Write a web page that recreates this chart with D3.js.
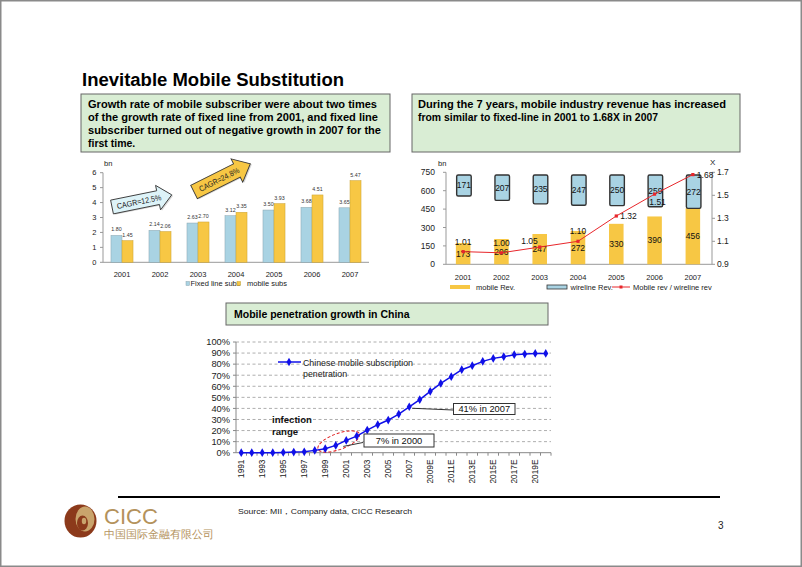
<!DOCTYPE html>
<html><head><meta charset="utf-8">
<script src="https://cdn.jsdelivr.net/npm/d3@7"></script>
<style>
body{margin:0;background:#fff}
svg{display:block}
text{font-family:"Liberation Sans",Arial,sans-serif}
</style>
</head><body>
<svg id="c" width="802" height="567"></svg>
<script>
// ---------------- DATA ----------------
const years = ["2001","2002","2003","2004","2005","2006","2007"];
const fixedSubs = [1.80,2.14,2.63,3.12,3.50,3.68,3.65];
const mobileSubs = [1.45,2.06,2.70,3.35,3.93,4.51,5.47];
const subsTicks = [0,1,2,3,4,5,6];

const mobileRev = [173,206,247,272,330,390,456];
const wirelineRev = [171,207,235,247,250,259,272];
const revRatio = [1.01,1.00,1.05,1.10,1.32,1.51,1.68];
const ratioLabelPos = ["above","above","left","above","right","below","right"];
const revTicks = [0,150,300,450,600,750];
const ratioTicks = [0.9,1.1,1.3,1.5,1.7];

const penYears = ["1991","1992","1993","1994","1995","1996","1997","1998","1999","2000",
  "2001","2002","2003","2004","2005","2006","2007","2008","2009E","2010E",
  "2011E","2012E","2013E","2014E","2015E","2016E","2017E","2018E","2019E","2020E"];
const penetration = [0,0,0,0,0.002,0.006,0.008,0.021,0.036,0.066,
  0.111,0.15,0.204,0.253,0.295,0.349,0.415,0.479,0.554,0.626,
  0.687,0.75,0.786,0.825,0.852,0.867,0.885,0.891,0.897,0.897];
const penTicks = [0,0.1,0.2,0.3,0.4,0.5,0.6,0.7,0.8,0.9,1.0];
const penCallouts = [{year:"2000", text:"7% in 2000"},{year:"2007", text:"41% in 2007"}];

// ---------------- DRAW ----------------
const svg = d3.select("#c");
const BLUE = "#A9D3E3", YEL = "#F7C744", GREEN = "#D9EDD4";

function txt(g, x, y, s, o) {
  const t = g.append("text").attr("x", x).attr("y", y).text(s);
  if (o) for (const k in o) t.attr(k, o[k]);
  return t;
}

svg.append("rect").attr("x",0.75).attr("y",0.75).attr("width",800.5).attr("height",565.5)
  .attr("fill","#fff").attr("stroke","#8a8a8a").attr("stroke-width",1.5);

// Title
txt(svg, 82, 86, "Inevitable Mobile Substitution",
  {"font-size":17.5,"font-weight":"bold","textLength":262,"lengthAdjust":"spacingAndGlyphs"});

// Text boxes
svg.append("rect").attr("x",81).attr("y",94).attr("width",309).attr("height",58)
  .attr("fill",GREEN).attr("stroke","#666").attr("stroke-width",1);
svg.append("rect").attr("x",412).attr("y",94).attr("width",328).attr("height",58)
  .attr("fill",GREEN).attr("stroke","#666").attr("stroke-width",1);
const leftLines = [
  ["Growth rate of mobile subscriber were about two times",289],
  ["of the growth rate of fixed line from 2001, and fixed line",290],
  ["subscriber turned out of negative growth in 2007 for the",293],
  ["first time.",null]];
leftLines.forEach((l,i)=>{
  const t = txt(svg, 88, 107.5+i*13.3, l[0], {"font-size":10.5,"font-weight":"bold"});
  if (l[1]) t.attr("textLength", l[1]).attr("lengthAdjust","spacingAndGlyphs");
});
const rightLines = [
  ["During the 7 years, mobile industry revenue has increased",308],
  ["from similar to fixed-line in 2001 to 1.68X in 2007",240]];
rightLines.forEach((l,i)=>{
  txt(svg, 418, 107.5+i*13.3, l[0], {"font-size":10.5,"font-weight":"bold",
    "textLength":l[1],"lengthAdjust":"spacingAndGlyphs"});
});

// ---------- Left chart: subscribers ----------
const gL = svg.append("g");
const xL = d3.scaleBand().domain(years).range([103,369]);
const yL = d3.scaleLinear().domain([0,6]).range([262.3,172.7]);
const bwL = xL.bandwidth()*0.29;
const cL = d => xL(d) + xL.bandwidth()/2;

gL.append("line").attr("x1",103).attr("x2",103).attr("y1",yL(6)).attr("y2",yL(0)).attr("stroke","#999");
gL.append("line").attr("x1",103).attr("x2",369).attr("y1",yL(0)).attr("y2",yL(0)).attr("stroke","#999");
subsTicks.forEach(t=>{
  gL.append("line").attr("x1",100).attr("x2",103).attr("y1",yL(t)).attr("y2",yL(t)).attr("stroke","#999");
  txt(gL, 96.5, yL(t)+2.7, t, {"font-size":7.5,"text-anchor":"end","fill":"#222"});
});
txt(gL, 104, 165.5, "bn", {"font-size":7.5,"fill":"#222"});
years.forEach((y,i)=>{
  gL.append("rect").attr("x",cL(y)-bwL).attr("y",yL(fixedSubs[i])).attr("width",bwL)
    .attr("height",yL(0)-yL(fixedSubs[i])).attr("fill",BLUE).attr("stroke","#8aa4ae").attr("stroke-width",0.5);
  gL.append("rect").attr("x",cL(y)).attr("y",yL(mobileSubs[i])).attr("width",bwL)
    .attr("height",yL(0)-yL(mobileSubs[i])).attr("fill",YEL).attr("stroke","#c9a233").attr("stroke-width",0.5);
  txt(gL, cL(y)-bwL/2, yL(fixedSubs[i])-4, fixedSubs[i].toFixed(2), {"font-size":5.3,"text-anchor":"middle","fill":"#333"});
  txt(gL, cL(y)+bwL/2, yL(mobileSubs[i])-4, mobileSubs[i].toFixed(2), {"font-size":5.3,"text-anchor":"middle","fill":"#333"});
  txt(gL, cL(y), 277, y, {"font-size":7.5,"text-anchor":"middle","fill":"#222"});
});
gL.append("rect").attr("x",186).attr("y",281.5).attr("width",3.5).attr("height",4).attr("fill",BLUE).attr("stroke","#8aa4ae").attr("stroke-width",0.5);
txt(gL, 190.5, 286, "Fixed line subs", {"font-size":7.5,"fill":"#222"});
gL.append("rect").attr("x",237).attr("y",281.5).attr("width",3.5).attr("height",4).attr("fill",YEL).attr("stroke","#c9a233").attr("stroke-width",0.5);
txt(gL, 247, 286, "mobile subs", {"font-size":7.5,"fill":"#222"});

// block arrows
function blockArrow(x, y, ang, L, bh, hh, hl, fill, label, tl) {
  const g = svg.append("g").attr("transform", `translate(${x},${y}) rotate(${ang})`);
  const p = `M0,${-bh} L${L-hl},${-bh} L${L-hl},${-hh} L${L},0 L${L-hl},${hh} L${L-hl},${bh} L0,${bh} Z`;
  g.append("path").attr("d",p).attr("transform","translate(1.2,1.2)").attr("fill","#bbb").attr("opacity",0.6);
  g.append("path").attr("d",p).attr("fill",fill).attr("stroke","#3a3a3a").attr("stroke-width",0.9);
  txt(g, (L-hl)/2+4, 3, label, {"font-size":8,"text-anchor":"middle","fill":"#222",
    "textLength":tl,"lengthAdjust":"spacingAndGlyphs"});
}
blockArrow(112, 207, -11.5, 61, 7, 12.5, 14, "#DDF3F8", "CAGR=12.5%", 45);
blockArrow(194, 192, -26.6, 63, 7.5, 13, 15, YEL, "CAGR=24.8%", 44);

// ---------- Right chart: revenue ----------
const gR = svg.append("g");
const xR = d3.scaleBand().domain(years).range([444,712]);
const yR = d3.scaleLinear().domain([0,750]).range([264.3,172.3]);
const yX = d3.scaleLinear().domain([0.9,1.7]).range([264.3,172.3]);
const bwR = xR.bandwidth()*0.38;
const cR = d => xR(d) + xR.bandwidth()/2;
const stackTop = d3.max(years, (y,i)=>mobileRev[i]+wirelineRev[i]);

gR.append("line").attr("x1",446).attr("x2",446).attr("y1",yR(750)).attr("y2",yR(0)).attr("stroke","#999");
gR.append("line").attr("x1",712).attr("x2",712).attr("y1",yR(750)).attr("y2",yR(0)).attr("stroke","#999");
gR.append("line").attr("x1",446).attr("x2",712).attr("y1",yR(0)).attr("y2",yR(0)).attr("stroke","#999");
revTicks.forEach(t=>{
  gR.append("line").attr("x1",443).attr("x2",446).attr("y1",yR(t)).attr("y2",yR(t)).attr("stroke","#999");
  txt(gR, 435, yR(t)+3, t, {"font-size":8.5,"text-anchor":"end","fill":"#222"});
});
ratioTicks.forEach(t=>{
  gR.append("line").attr("x1",712).attr("x2",715).attr("y1",yX(t)).attr("y2",yX(t)).attr("stroke","#999");
  txt(gR, 717, yX(t)+3, t.toFixed(1), {"font-size":8.5,"fill":"#222"});
});
txt(gR, 438, 165.5, "bn", {"font-size":7.5,"fill":"#222"});
txt(gR, 710, 165, "X", {"font-size":8,"fill":"#222"});

years.forEach((y,i)=>{
  gR.append("rect").attr("x",cR(y)-bwR/2).attr("y",yR(mobileRev[i])).attr("width",bwR)
    .attr("height",yR(0)-yR(mobileRev[i])).attr("fill",YEL);
  gR.append("rect").attr("x",cR(y)-bwR/2+0.8).attr("y",yR(stackTop)).attr("width",bwR)
    .attr("height",yR(stackTop-wirelineRev[i])-yR(stackTop)).attr("rx",1.5)
    .attr("fill",BLUE).attr("stroke","#333").attr("stroke-width",1.4);
  txt(gR, cR(y)+0.8, yR(stackTop-wirelineRev[i]/2)+3, wirelineRev[i], {"font-size":8.5,"text-anchor":"middle","fill":"#111"});
  txt(gR, cR(y), yR(mobileRev[i]/2)+3, mobileRev[i], {"font-size":8.5,"text-anchor":"middle","fill":"#111"});
  txt(gR, cR(y), 279.5, y, {"font-size":7.5,"text-anchor":"middle","fill":"#222"});
});
const ratioLine = d3.line().x((d,i)=>cR(years[i])).y(d=>yX(d));
gR.append("path").attr("d",ratioLine(revRatio)).attr("fill","none").attr("stroke","#E8262B").attr("stroke-width",1);
const offs = {above:[0,-7,"middle"], left:[-2,-3.5,"end"], right:[4,3,"start"], below:[3,11,"middle"]};
revRatio.forEach((r,i)=>{
  gR.append("rect").attr("x",cR(years[i])-1.6).attr("y",yX(r)-1.6).attr("width",3.2).attr("height",3.2).attr("fill","#E8262B");
  const o = offs[ratioLabelPos[i]];
  txt(gR, cR(years[i])+o[0], yX(r)+o[1], r.toFixed(2), {"font-size":8.5,"text-anchor":o[2],"fill":"#111"});
});
// legend
gR.append("rect").attr("x",450).attr("y",285).attr("width",20).attr("height",4).attr("fill",YEL);
txt(gR, 476, 290, "mobile Rev.", {"font-size":7.5,"fill":"#222"});
gR.append("rect").attr("x",547).attr("y",285).attr("width",20).attr("height",4).attr("fill",BLUE).attr("stroke","#333").attr("stroke-width",0.8);
txt(gR, 570.5, 290, "wireline Rev.", {"font-size":7.5,"fill":"#222"});
gR.append("line").attr("x1",612).attr("x2",630).attr("y1",287).attr("y2",287).attr("stroke","#E8262B");
gR.append("rect").attr("x",619.5).attr("y",285.5).attr("width",3).attr("height",3).attr("fill","#E8262B");
txt(gR, 633, 290, "Mobile rev / wireline rev", {"font-size":7.5,"fill":"#222"});

// ---------- Bottom chart: penetration ----------
svg.append("rect").attr("x",226).attr("y",303).attr("width",322).attr("height",22)
  .attr("fill",GREEN).attr("stroke","#666").attr("stroke-width",1);
txt(svg, 234, 318, "Mobile penetration growth in China", {"font-size":10.5,"font-weight":"bold"});

const gP = svg.append("g");
const xP = d3.scaleBand().domain(penYears).range([236,551]);
const yP = d3.scaleLinear().domain([0,1]).range([452.7,342]);
const cP = d => xP(d) + xP.bandwidth()/2;

penTicks.forEach(t=>{
  if (t>0) gP.append("line").attr("x1",236).attr("x2",551).attr("y1",yP(t)).attr("y2",yP(t))
    .attr("stroke","#9a9a9a").attr("stroke-dasharray","3,2.5").attr("stroke-width",0.8);
  gP.append("line").attr("x1",233).attr("x2",236).attr("y1",yP(t)).attr("y2",yP(t)).attr("stroke","#888");
  txt(gP, 230, yP(t)+3.3, d3.format(".0%")(t), {"font-size":9.3,"text-anchor":"end","fill":"#222"});
});
gP.append("line").attr("x1",236).attr("x2",236).attr("y1",yP(1)).attr("y2",yP(0)).attr("stroke","#888");
gP.append("line").attr("x1",236).attr("x2",551).attr("y1",yP(0)).attr("y2",yP(0)).attr("stroke","#888");
penYears.forEach(y=>{
  gP.append("line").attr("x1",xP(y)+xP.bandwidth()).attr("x2",xP(y)+xP.bandwidth())
    .attr("y1",yP(0)).attr("y2",yP(0)+3).attr("stroke","#888");
});
const clip = svg.append("defs").append("clipPath").attr("id","xclip");
clip.append("rect").attr("x",220).attr("y",455).attr("width",350).attr("height",30);
const gXL = gP.append("g").attr("clip-path","url(#xclip)");
penYears.forEach((y,i)=>{
  if (i%2===0) {
    gXL.append("text").attr("transform",`translate(${cP(y)+3},459.5) rotate(-90)`)
      .attr("text-anchor","end").attr("font-size",8.3).attr("fill","#222").text(y);
  }
});
// annotations behind line
gP.append("ellipse").attr("cx",338.7).attr("cy",441.5).attr("rx",22).attr("ry",8)
  .attr("transform","rotate(-20,338.7,441.5)").attr("fill","none").attr("stroke","#E02020")
  .attr("stroke-dasharray","3,2").attr("stroke-width",1);

const penLine = d3.line().x((d,i)=>cP(penYears[i])).y(d=>yP(d));
gP.append("path").attr("d",penLine(penetration)).attr("fill","none").attr("stroke","#1010E8").attr("stroke-width",1.5);
const diamond = d3.symbol().type(d3.symbolDiamond).size(22);
penetration.forEach((v,i)=>{
  gP.append("path").attr("d",diamond).attr("transform",`translate(${cP(penYears[i])},${yP(v)})`).attr("fill","#1010E8");
});
// legend
gP.append("line").attr("x1",278).attr("x2",301).attr("y1",362).attr("y2",362).attr("stroke","#1010E8").attr("stroke-width",1.5);
gP.append("path").attr("d",diamond).attr("transform","translate(289,362)").attr("fill","#1010E8");
txt(gP, 303, 365.5, "Chinese mobile subscription", {"font-size":8.8,"fill":"#222"});
txt(gP, 303, 377, "penetration", {"font-size":8.8,"fill":"#222"});
txt(gP, 272, 422.5, "infection", {"font-size":9.6,"font-weight":"bold","fill":"#111"});
txt(gP, 272, 435, "range", {"font-size":9.6,"font-weight":"bold","fill":"#111"});

// callouts
const boxes = {"2000":{x:364,y:434,w:70,h:13,lx:363,ly:442.5}, "2007":{x:453.5,y:403.5,w:61.5,h:11,lx:453,ly:410}};
penCallouts.forEach(c=>{
  const b = boxes[c.year];
  const i = penYears.indexOf(c.year);
  const px = c.year==="2000" ? cP(penYears[i+1])-3 : cP(c.year)+3;
  const py = c.year==="2000" ? yP(penetration[i+1])+6 : yP(penetration[i])+1.5;
  gP.append("line").attr("x1",px).attr("y1",py).attr("x2",b.lx).attr("y2",b.ly).attr("stroke","#333").attr("stroke-width",1);
  gP.append("rect").attr("x",b.x).attr("y",b.y).attr("width",b.w).attr("height",b.h)
    .attr("fill","#fff").attr("stroke","#333").attr("stroke-width",1);
  txt(gP, b.x+b.w/2, b.y+b.h/2+3.3, c.text, {"font-size":9.3,"text-anchor":"middle","fill":"#111"});
});

// ---------- Footer ----------
svg.append("line").attr("x1",118).attr("x2",720).attr("y1",497).attr("y2",497).attr("stroke","#000").attr("stroke-width",2);
txt(svg, 238, 514, "Source:   MII，Company data, CICC Research", {"font-size":8,"fill":"#222",
  "textLength":174,"lengthAdjust":"spacingAndGlyphs"});
txt(svg, 718, 529, "3", {"font-size":10,"fill":"#222"});
// logo
const lg = svg.append("g");
lg.append("ellipse").attr("cx",80.5).attr("cy",521).attr("rx",16).attr("ry",16.5).attr("fill","#8C3A1B");
lg.append("ellipse").attr("cx",85).attr("cy",519).attr("rx",9.5).attr("ry",12.5).attr("fill","#C9A46C");
lg.append("ellipse").attr("cx",82.5).attr("cy",523).attr("rx",5.5).attr("ry",7.5).attr("fill","#8C3A1B");
lg.append("ellipse").attr("cx",84).attr("cy",521).attr("rx",2.2).attr("ry",3.2).attr("fill","#C9A46C");
txt(lg, 104, 524, "CICC", {"font-size":22,"fill":"#B4925C","textLength":54,"lengthAdjust":"spacingAndGlyphs"});
txt(lg, 104, 537.5, "中国国际金融有限公司", {"font-size":10.5,"fill":"#B4925C",
  "font-family":"'Noto Sans CJK SC',sans-serif","textLength":110,"lengthAdjust":"spacingAndGlyphs"});
</script>
</body></html>
